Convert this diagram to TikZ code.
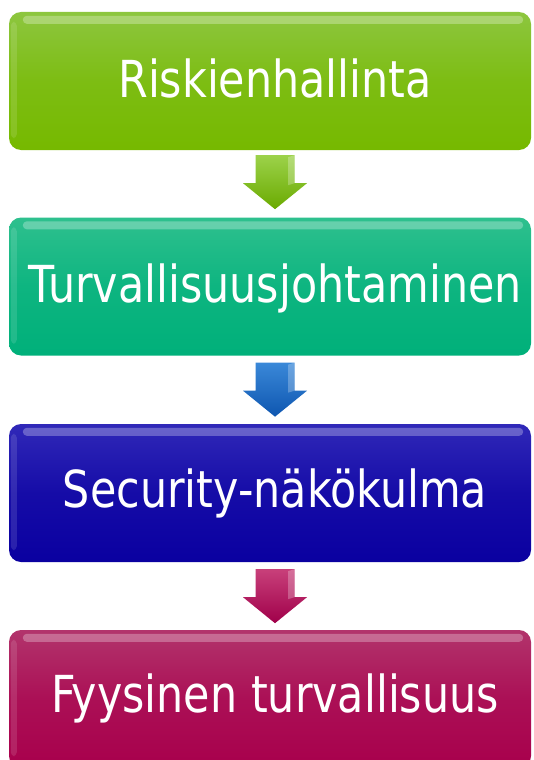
\documentclass[tikz,border=0pt]{standalone}
\usepackage{fontspec}
\usetikzlibrary{calc}
\newfontfamily\boxfont[FakeStretch=0.84]{DejaVu Sans}
\definecolor{gTop}{HTML}{8DC63F}
\definecolor{gBot}{HTML}{76B900}
\definecolor{tTop}{HTML}{2EC08E}
\definecolor{tBot}{HTML}{00B07A}
\definecolor{bTop}{HTML}{3028B8}
\definecolor{bBot}{HTML}{0A00A0}
\definecolor{mTop}{HTML}{B2346C}
\definecolor{mBot}{HTML}{A8004C}
\definecolor{agTop}{HTML}{9CD24A}
\definecolor{agBot}{HTML}{6AAA00}
\definecolor{abTop}{HTML}{3A88D8}
\definecolor{abBot}{HTML}{0E56B0}
\definecolor{amTop}{HTML}{C8407A}
\definecolor{amBot}{HTML}{A0004A}
\begin{document}
\begin{tikzpicture}[x=1pt,y=-1pt,
  stepbox/.style={rectangle, rounded corners=12pt, minimum width=522pt,
    minimum height=138pt, inner sep=0pt},
  boxtext/.style={anchor=base, text=white, inner sep=0pt,
    font=\boxfont\fontsize{51}{60}\selectfont},
  gloss/.style={white, opacity=0.28, rounded corners=4pt},
  arrowshape/.style={draw=none}
]
\useasboundingbox (0,0) rectangle (533,760);

% boxes
\node[stepbox, top color=gTop, bottom color=gBot, middle color=gBot!70!gTop] (b1) at (270,81) {};
\node[stepbox, top color=tTop, bottom color=tBot, middle color=tBot!70!tTop] (b2) at (270,286.5) {};
\node[stepbox, top color=bTop, bottom color=bBot, middle color=bBot!70!bTop] (b3) at (270,493) {};
\node[stepbox, top color=mTop, bottom color=mBot, middle color=mBot!70!mTop] (b4) at (270,699) {};

% gloss bands
\foreach \b in {b1,b2,b3,b4}{
  \fill[gloss] ($(\b.north west)+(14,4)$) rectangle ($(\b.north east)+(-8,12)$);
  \fill[white, opacity=0.12, rounded corners=4pt] ($(\b.north west)+(2,10)$) rectangle ($(\b.south west)+(8,-12)$);
}

% texts
\node[boxtext] (t1) at (275,97) {Riskienhallinta};
\node[boxtext] (t2) at (275,302) {Turvallisuusjohtaminen};
\node[boxtext] (t3) at (275,507) {Security-näkökulma};
\node[boxtext] (t4) at (275,712) {Fyysinen turvallisuus};

% arrows (block arrows between boxes)
\coordinate (a1) at ($(b1.south)+(5,5)$);
\coordinate (a2) at ($(b2.south)+(5,7)$);
\coordinate (a3) at ($(b3.south)+(5,7)$);
\foreach \a/\ct/\cb in {a1/agTop/agBot, a2/abTop/abBot, a3/amTop/amBot}{
  \path[top color=\ct, bottom color=\cb]
    ($(\a)+(-19.5,0)$) -- ($(\a)+(19.5,0)$) -- ($(\a)+(19.5,28)$) --
    ($(\a)+(32,28)$) -- ($(\a)+(0,54)$) -- ($(\a)+(-32,28)$) --
    ($(\a)+(-19.5,28)$) -- cycle;
  \fill[white, opacity=0.25] ($(\a)+(13,2)$) -- ($(\a)+(19.5,0)$) -- ($(\a)+(19.5,28)$) -- ($(\a)+(13,30)$) -- cycle;
}
\end{tikzpicture}
\end{document}
